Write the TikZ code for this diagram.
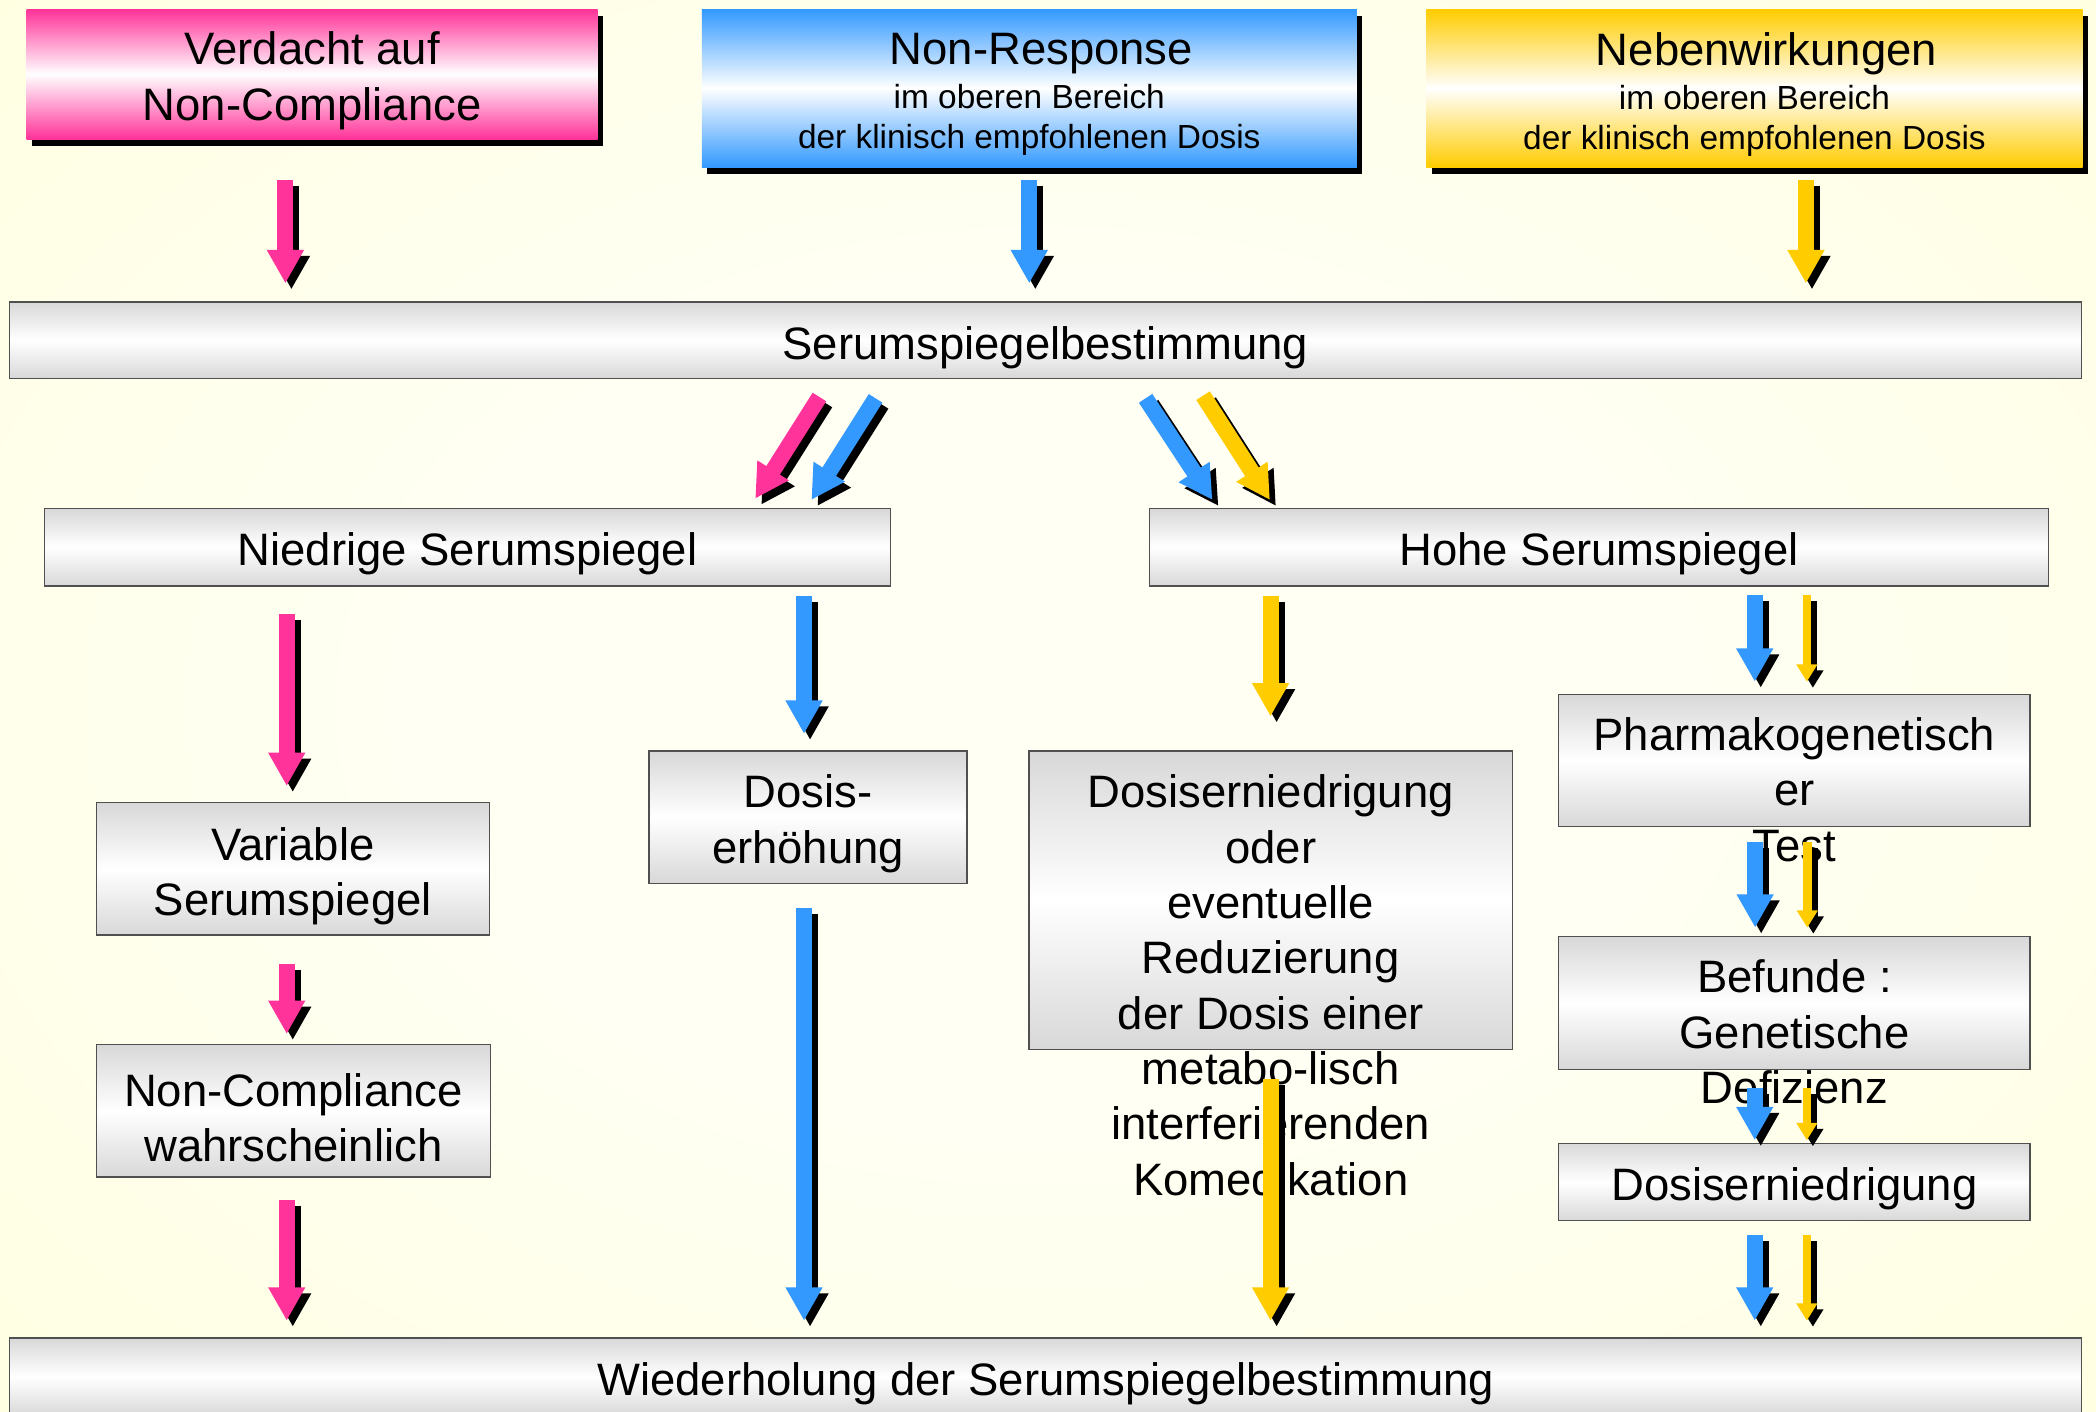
\documentclass[tikz,border=0pt]{standalone}
\usepackage{fontspec}
\setmainfont{Liberation Sans}
\usetikzlibrary{arrows.meta,shadows}
\definecolor{cpink}{HTML}{FF3399}
\definecolor{cblue}{HTML}{3399FF}
\definecolor{cyellow}{HTML}{FFCC00}
\definecolor{boxgray}{HTML}{D8D8D8}
\definecolor{edgegray}{HTML}{505050}
\definecolor{bgin}{HTML}{FFFFF4}
\definecolor{bgout}{HTML}{FFFFD6}
\pgfdeclareradialshading{bgrad}{\pgfpoint{0bp}{0bp}}{color(0bp)=(bgin); color(14bp)=(bgin); color(50bp)=(bgout); color(75bp)=(bgout)}
\newcommand\bigfont{\fontsize{34}{41.4}\selectfont}
\newcommand\smallfont{\fontsize{25}{29.5}\selectfont}
\tikzset{
  grbox/.style={draw=edgegray, line width=1pt, top color=boxgray, bottom color=boxgray, middle color=white, inner sep=0pt},
  topbox/.style={top color=#1, bottom color=#1, middle color=white, inner sep=0pt,
    drop shadow={shadow xshift=4pt, shadow yshift=-5pt, fill=black, opacity=1}},
  freetext/.style={inner sep=0pt, align=center, font=\bigfont},
  bigarr/.style={draw=#1, line width=12pt, -{Triangle[width=26pt,length=25pt]}},
  thinarr/.style={draw=#1, line width=6.5pt, -{Triangle[width=15pt,length=13pt]}},
  shad/.style={transform canvas={shift={(4.5pt,-4.5pt)}}}
}
\newcommand\shadarrow[4]{%
  \draw[#1=black, shad] (#3) -- (#4);
  \draw[#1=#2] (#3) -- (#4);}
\begin{document}
\begin{tikzpicture}[x=1pt, y=-1pt]
\useasboundingbox (0,0) rectangle (1568,1056);
\fill[shading=bgrad] (0,0) rectangle (1568,1056);

% top boxes
\node[topbox=cpink, minimum width=427pt, minimum height=97pt] (pink) at (233.5,55.5) {};
\node[topbox=cblue, minimum width=490pt, minimum height=118pt] (blue) at (770,66) {};
\node[topbox=cyellow, minimum width=491pt, minimum height=118pt] (yellow) at (1312.5,66) {};

% gray boxes
\node[grbox, minimum width=1550pt, minimum height=57pt] (serum) at (782,254.5) {};
\node[grbox, minimum width=633pt, minimum height=58pt] (low) at (349.75,409.5) {};
\node[grbox, minimum width=672.5pt, minimum height=58pt] (high) at (1196.25,409.5) {};
\node[grbox, minimum width=294pt, minimum height=99pt] (var) at (219,650) {};
\node[grbox, minimum width=295pt, minimum height=99pt] (nc) at (219.5,831) {};
\node[grbox, minimum width=238pt, minimum height=99pt] (inc) at (604.5,611.3) {};
\node[grbox, minimum width=361.6pt, minimum height=223pt] (dec) at (950.6,673.4) {};
\node[grbox, minimum width=352.6pt, minimum height=99pt] (pgt) at (1342.4,569) {};
\node[grbox, minimum width=352.6pt, minimum height=99.3pt] (bef) at (1342.4,750.4) {};
\node[grbox, minimum width=352.6pt, minimum height=57.7pt] (ds) at (1342.4,884.2) {};
\node[grbox, minimum width=1550pt, minimum height=58pt] (rep) at (782.3,1030) {};

% texts
\node[freetext] (pinkt) at ([yshift=-5pt]pink.center) {Verdacht auf\\Non-Compliance};
\node[freetext, font=\smallfont] (bluet) at ([yshift=-4.5pt]blue.center)
  {\hspace*{18pt}{\bigfont Non-Response}\\[3.5pt]im oberen Bereich\\der klinisch empfohlenen Dosis};
\node[freetext, font=\smallfont] (yellowt) at ([yshift=-4.5pt]yellow.center)
  {\hspace*{18pt}{\bigfont Nebenwirkungen}\\[3.5pt]im oberen Bereich\\der klinisch empfohlenen Dosis};
\node[freetext] (serumt) at ([yshift=-5.5pt]serum.center) {Serumspiegelbestimmung};
\node[freetext] (lowt) at ([yshift=-5pt]low.center) {Niedrige Serumspiegel};
\node[freetext] (hight) at ([yshift=-5pt]high.center) {Hohe Serumspiegel};
\node[freetext] (vart) at ([yshift=-5.5pt]var.center) {Variable\\Serumspiegel};
\node[freetext] (nct) at ([yshift=-5pt]nc.center) {Non-Compliance\\wahrscheinlich};
\node[freetext] (inct) at ([yshift=-5pt]inc.center) {Dosis-\\erhöhung};
\node[freetext] (dst) at ([yshift=-5pt]ds.center) {Dosiserniedrigung};
\node[freetext] (rept) at ([yshift=-5pt]rep.center) {Wiederholung der Serumspiegelbestimmung};
\node[freetext, anchor=north] (dect) at (950.6,579.4) {Dosiserniedrigung\\oder\\eventuelle\\Reduzierung\\der Dosis einer\\metabo-lisch\\interferierenden\\Komedikation};
\node[freetext, anchor=north] (pgtt) at (1342.4,536.7) {Pharmakogenetisch\\er\\Test};
\node[freetext, anchor=north] (beft) at (1342.4,717.8) {Befunde :\\Genetische\\Defizienz};

% arrow end points
\coordinate (a1s) at (213.5,135);  \coordinate (a1e) at (213.5,212);
\coordinate (a2s) at (770,135);    \coordinate (a2e) at (770,212);
\coordinate (a3s) at (1351,135);   \coordinate (a3e) at (1351,212);
\coordinate (d1s) at (613,297);    \coordinate (d1e) at (565,373);
\coordinate (d2s) at (655,298);    \coordinate (d2e) at (607,374);
\coordinate (d3s) at (857,298);    \coordinate (d3e) at (907,374);
\coordinate (d4s) at (900,296);    \coordinate (d4e) at (950,374);
\coordinate (b1s) at (214.5,459);  \coordinate (b1e) at (214.5,588);
\coordinate (b2s) at (214.5,721);  \coordinate (b2e) at (214.5,773.5);
\coordinate (b3s) at (214.5,898);  \coordinate (b3e) at (214.5,988);
\coordinate (b4s) at (601.5,446);  \coordinate (b4e) at (601.5,549);
\coordinate (b5s) at (601.5,679);  \coordinate (b5e) at (601.5,988);
\coordinate (b6s) at (950.5,446);  \coordinate (b6e) at (950.5,536);
\coordinate (b7s) at (950.5,807);  \coordinate (b7e) at (950.5,988);
\coordinate (r1s) at (1312.7,445); \coordinate (r1e) at (1312.7,510);
\coordinate (y1s) at (1351.7,445); \coordinate (y1e) at (1351.7,510);
\coordinate (r2s) at (1313,630);   \coordinate (r2e) at (1313,694);
\coordinate (y2s) at (1352,630);   \coordinate (y2e) at (1352,694);
\coordinate (r3s) at (1312.7,814); \coordinate (r3e) at (1312.7,853);
\coordinate (y3s) at (1351.7,814); \coordinate (y3e) at (1351.7,853);
\coordinate (r4s) at (1312.7,924); \coordinate (r4e) at (1312.7,988);
\coordinate (y4s) at (1351.7,924); \coordinate (y4e) at (1351.7,988);

% arrows
\shadarrow{bigarr}{cpink}{a1s}{a1e}
\shadarrow{bigarr}{cblue}{a2s}{a2e}
\shadarrow{bigarr}{cyellow}{a3s}{a3e}
\shadarrow{bigarr}{cpink}{d1s}{d1e}
\shadarrow{bigarr}{cblue}{d2s}{d2e}
\shadarrow{bigarr}{cblue}{d3s}{d3e}
\shadarrow{bigarr}{cyellow}{d4s}{d4e}
\shadarrow{bigarr}{cpink}{b1s}{b1e}
\shadarrow{bigarr}{cpink}{b2s}{b2e}
\shadarrow{bigarr}{cpink}{b3s}{b3e}
\shadarrow{bigarr}{cblue}{b4s}{b4e}
\shadarrow{bigarr}{cblue}{b5s}{b5e}
\shadarrow{bigarr}{cyellow}{b6s}{b6e}
\shadarrow{bigarr}{cyellow}{b7s}{b7e}
\shadarrow{bigarr}{cblue}{r1s}{r1e}
\shadarrow{thinarr}{cyellow}{y1s}{y1e}
\shadarrow{bigarr}{cblue}{r2s}{r2e}
\shadarrow{thinarr}{cyellow}{y2s}{y2e}
\shadarrow{bigarr}{cblue}{r3s}{r3e}
\shadarrow{thinarr}{cyellow}{y3s}{y3e}
\shadarrow{bigarr}{cblue}{r4s}{r4e}
\shadarrow{thinarr}{cyellow}{y4s}{y4e}
\end{tikzpicture}
\end{document}
